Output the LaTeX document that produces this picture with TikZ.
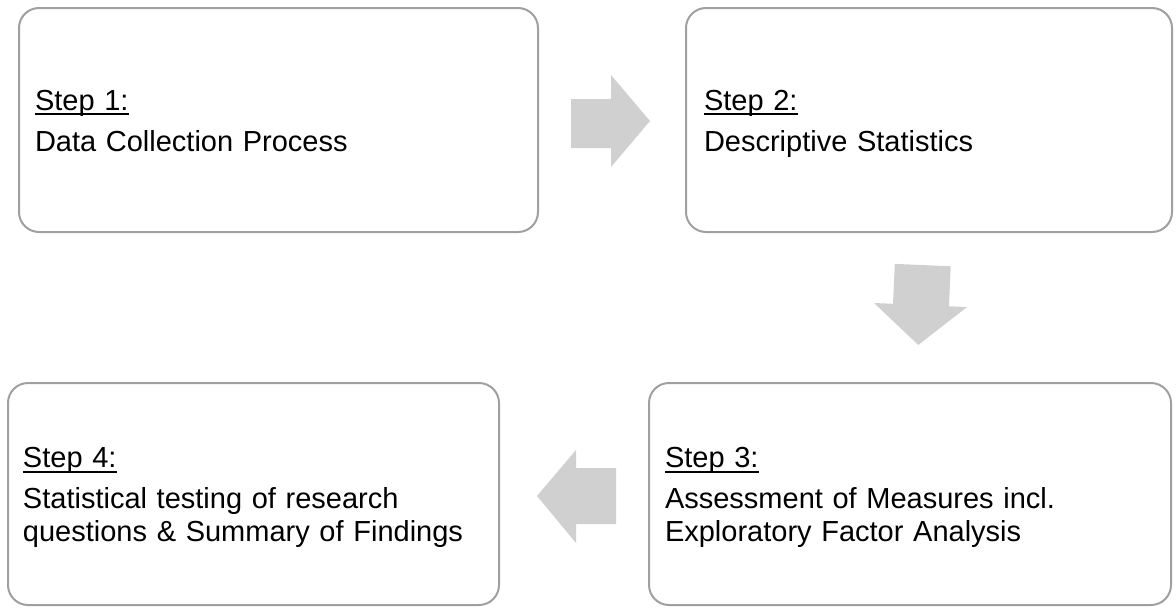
\documentclass[tikz,border=0pt]{standalone}
\usepackage{fontspec}
\setmainfont{Liberation Sans}
% underlined step heading; a strut keeps the first line the same height in every box
\newcommand\stepul[1]{\setbox0\hbox{#1}\rule{0pt}{27.5pt}\rlap{\rule[-5pt]{\wd0}{2.2pt}}\box0}
% fixed depth for the last line of each box
\newcommand\lastdp{\rule[-6pt]{0pt}{6pt}}
\definecolor{boxline}{HTML}{A0A0A0}
\definecolor{arrowfill}{HTML}{D0D0D0}
\tikzset{
  stepbox/.style={draw=boxline, line width=2pt, rounded corners=20pt, fill=white,
    align=left, inner xsep=16pt, inner ysep=0pt,
    font=\fontsize{29pt}{33pt}\selectfont},
  blockarrow/.style={fill=arrowfill, draw=none}
}
\begin{document}
\begin{tikzpicture}[x=1pt,y=-1pt]
\useasboundingbox (0,0) rectangle (1176,608);
% process steps
\node[stepbox, minimum width=519pt, minimum height=224pt, text width=487pt] (s1) at (278.5,120)
  {\stepul{Step 1:}\\[8pt]Data Collection Process\lastdp};
\node[stepbox, minimum width=484pt, minimum height=224pt, text width=450pt, inner xsep=18pt] (s2) at (929,120)
  {\stepul{Step 2:}\\[8pt]Descriptive Statistics\lastdp};
\node[stepbox, minimum width=522pt, minimum height=222pt, text width=490pt] (s3) at (910,494)
  {\stepul{Step 3:}\\[8pt]Assessment of Measures incl.\\Exploratory Factor Analysis\lastdp};
\node[stepbox, minimum width=491pt, minimum height=222pt, text width=461pt, inner xsep=15pt] (s4) at (253.5,494)
  {\stepul{Step 4:}\\[8pt]Statistical testing of research\\questions \& Summary of Findings\lastdp};
% block arrows between the steps
\fill[blockarrow] (571,99) -- (611,99) -- (611,75) -- (650,121) -- (611,167) -- (611,148) -- (571,148) -- cycle;
\begin{scope}[rotate around={-2.5:(920,305)}]
\fill[blockarrow] (893,265) -- (949,265) -- (949,305) -- (967,305) -- (920,345) -- (874,305) -- (893,305) -- cycle;
\end{scope}
\fill[blockarrow] (616,468) -- (576,468) -- (576,450) -- (537,496) -- (576,543) -- (576,524) -- (616,524) -- cycle;
\end{tikzpicture}
\end{document}
